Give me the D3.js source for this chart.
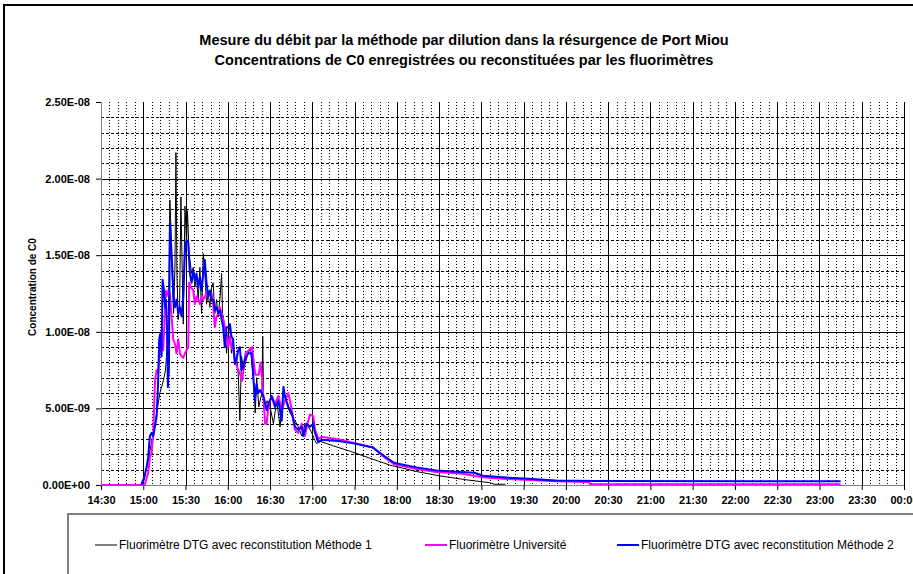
<!DOCTYPE html>
<html>
<head>
<meta charset="utf-8">
<script src="https://cdn.jsdelivr.net/npm/d3@7/dist/d3.min.js"></script>
<style>
body { margin: 0; background: #fff; }
svg text { font-family: Arial, "Liberation Sans", sans-serif; }
</style>
</head>
<body>
<div id="chart-area"></div>
<script>
// values are in units of 1e-9
var unit = 1e-9;

var titleLines = [
	"Mesure du débit par la méthode par dilution dans la résurgence de Port Miou",
	"Concentrations de C0 enregistrées ou reconstituées par les fluorimètres"
];
var yLabel = "Concentration de C0";
var seriesNames = [
	"Fluorimètre DTG avec reconstitution Méthode 1",
	"Fluorimètre Université",
	"Fluorimètre DTG avec reconstitution Méthode 2"
];
var seriesColors = ["#000000", "#ff00ff", "#0000ff"];
var yTicks = [0, 5, 10, 15, 20, 25];

// Méthode 1 (black)
var m1Times = ["14:58:00","15:00:00","15:03:30","15:07:06","15:09:30","15:11:48","15:14:12","15:15:48","15:17:18","15:18:12",
	"15:18:54","15:19:36","15:20:36","15:21:30","15:22:30","15:23:12","15:23:54","15:24:48","15:25:48","15:26:42",
	"15:27:42","15:28:24","15:29:36","15:30:42","15:31:24","15:32:24","15:33:06","15:34:18","15:35:30","15:36:36",
	"15:37:48","15:39:00","15:40:12","15:41:24","15:42:36","15:43:42","15:44:54","15:46:06","15:47:18","15:48:30",
	"15:49:36","15:50:48","15:52:00","15:53:12","15:54:24","15:55:36","15:56:18","15:57:54","15:59:06","16:00:18",
	"16:01:30","16:02:36","16:03:48","16:05:00","16:06:12","16:07:24","16:08:36","16:09:42","16:11:18","16:13:42",
	"16:16:06","16:18:24","16:19:30","16:20:30","16:22:00","16:24:12","16:24:48","16:25:30","16:27:54","16:30:00",
	"16:32:24","16:34:42","16:37:06","16:39:30","16:41:48","16:44:12","16:47:42","16:50:06","16:52:30","16:54:48",
	"16:57:12","16:59:36","17:01:54","17:03:06","17:05:30","17:15:00","17:27:00","17:40:00","17:55:00","18:14:00",
	"18:30:00","18:50:00","19:06:00","19:09:00","19:17:00"];
var m1Values = [0,0.1,1.6,3.4,4.7,6.0,6.8,7.5,9.5,12.9,
	18.6,16.8,13.4,11.2,14.2,21.7,13.8,10.8,11.6,18.8,
	13.8,10.5,18.2,15.8,17.9,15.3,14.7,13.8,14.2,12.9,
	13.6,12.1,14.2,11.2,15.1,13.8,11.8,12.5,11.6,12.9,
	13.2,11.2,12.1,11.0,12.1,13.8,11.2,10.3,8.6,9.9,
	10.3,8.6,9.5,7.9,8.4,7.3,4.2,8.4,7.5,8.4,
	9.0,6.6,4.7,7.0,5.1,6.0,9.7,4.9,5.5,5.1,
	4.0,5.5,3.8,6.2,5.3,4.7,4.2,3.8,3.2,4.0,
	3.8,3.4,2.9,2.7,2.85,2.55,2.2,1.78,1.3,0.88,
	0.6,0.33,0.15,0.05,0.05];

// Université (magenta)
var univTimes = ["14:30:00","15:01:00","15:03:30","15:04:42","15:05:54","15:07:06","15:08:18","15:09:30","15:10:36","15:11:48",
	"15:13:00","15:14:12","15:14:54","15:15:48","15:16:30","15:17:42","15:18:54","15:20:06","15:21:18","15:22:30",
	"15:23:36","15:24:48","15:26:00","15:27:12","15:28:24","15:29:36","15:30:42","15:31:54","15:32:36","15:33:48",
	"15:35:30","15:36:36","15:37:48","15:39:00","15:40:12","15:41:24","15:42:36","15:43:42","15:44:54","15:46:06",
	"15:47:18","15:48:30","15:49:36","15:50:48","15:52:00","15:53:12","15:54:24","15:55:36","15:56:42","15:57:54",
	"15:59:06","16:00:18","16:01:30","16:02:36","16:03:48","16:05:00","16:06:36","16:08:30","16:10:12","16:12:30",
	"16:14:54","16:17:18","16:19:30","16:22:00","16:23:12","16:24:30","16:26:30","16:27:36","16:28:48","16:31:12",
	"16:33:30","16:35:54","16:38:18","16:40:36","16:43:00","16:45:24","16:47:42","16:50:06","16:52:30","16:54:48",
	"16:56:30","16:58:24","17:00:42","17:01:54","17:04:18","17:06:36","17:20:00","17:30:00","17:43:00","17:50:00",
	"17:58:00","18:14:00","18:28:00","18:45:00","19:01:00","19:15:00","19:30:00","19:53:00","20:16:00","20:17:00",
	"23:15:00"];
var univValues = [0,0,0.8,1.8,2.1,3.4,6.8,7.5,7.3,9.0,
	9.5,8.8,10.3,12.7,12.3,12.7,12.5,11.0,9.5,9.2,
	8.6,9.5,8.6,8.4,8.3,8.6,8.8,9.0,13.2,12.9,
	12.7,11.8,12.3,12.1,11.8,12.3,12.1,12.3,12.5,12.3,
	12.5,12.5,11.8,10.3,11.0,11.2,11.6,11.2,10.8,10.3,
	9.9,9.0,9.7,9.0,8.8,8.2,7.7,7.3,6.8,8.6,
	8.8,9.0,7.2,7.2,8.0,6.8,4.0,4.0,5.1,5.8,
	5.3,5.8,4.9,5.5,6.0,4.9,3.6,3.4,4.0,3.2,
	4.0,4.6,4.5,3.6,3.0,3.15,2.95,2.75,2.45,1.9,
	1.35,1.05,0.85,0.75,0.5,0.4,0.35,0.25,0.2,0.07,
	0.05];

// Méthode 2 (blue)
var m2Times = ["14:58:30","15:00:42","15:02:24","15:03:30","15:04:42","15:05:54","15:07:06","15:08:18","15:09:30","15:10:36",
	"15:11:18","15:12:06","15:13:00","15:13:42","15:14:42","15:15:24","15:16:06","15:16:48","15:17:30","15:18:12",
	"15:18:54","15:19:36","15:20:36","15:21:30","15:22:30","15:23:36","15:24:48","15:26:00","15:27:12","15:28:24",
	"15:29:36","15:30:42","15:31:54","15:33:06","15:34:18","15:35:30","15:36:36","15:37:48","15:39:00","15:40:12",
	"15:41:24","15:42:36","15:43:42","15:44:54","15:46:06","15:47:18","15:48:30","15:49:36","15:50:48","15:52:00",
	"15:53:12","15:54:24","15:55:36","15:56:42","15:57:54","15:59:06","16:00:18","16:01:30","16:02:36","16:03:48",
	"16:05:00","16:06:12","16:07:24","16:08:36","16:09:42","16:10:54","16:12:06","16:14:30","16:16:48","16:18:00",
	"16:19:12","16:20:24","16:21:36","16:22:54","16:25:18","16:27:36","16:28:48","16:31:12","16:33:30","16:35:54",
	"16:38:18","16:39:30","16:40:36","16:43:00","16:45:24","16:47:42","16:50:06","16:52:30","16:53:36","16:56:00",
	"16:58:24","17:00:42","17:01:54","17:04:18","17:06:36","17:20:00","17:30:00","17:43:00","17:50:00","17:58:00",
	"18:00:00","18:14:00","18:28:00","18:45:00","18:55:00","19:01:00","19:15:00","19:30:00","19:53:00","20:22:00",
	"23:15:00"];
var m2Values = [0,0.5,1.2,1.8,3.2,3.4,3.2,3.8,4.5,6.8,
	9.5,9.9,8.4,13.4,12.7,11.6,12.1,10.3,6.4,7.7,
	17.1,16.0,14.2,12.3,11.6,12.1,11.2,11.6,11.0,12.3,
	15.3,16.0,15.8,13.8,13.2,14.0,13.4,13.8,12.9,13.6,
	12.7,13.8,14.7,13.2,12.3,12.7,12.1,12.1,11.4,11.6,
	11.2,11.4,10.8,10.3,9.0,10.3,10.3,10.5,9.7,9.5,
	7.9,8.2,8.8,9.0,7.5,7.7,8.2,8.6,8.6,7.3,
	5.5,6.6,6.0,6.2,5.8,4.9,5.3,5.8,5.1,5.5,
	4.2,6.4,5.8,5.1,4.7,3.8,3.6,3.8,3.2,4.0,
	3.8,4.0,3.4,2.8,2.95,2.85,2.7,2.45,1.96,1.45,
	1.4,1.15,0.95,0.85,0.8,0.6,0.5,0.42,0.3,0.26,
	0.24];

var W = 913, H = 574;
var margin = {top: 102, left: 101};
var width = 803, height = 383;

var svg = d3.select("#chart-area").append("svg")
	.attr("width", W)
	.attr("height", H);

svg.append("rect").attr("width", W).attr("height", H).attr("fill", "#fff");

// outer chart frame (cut at right/bottom)
svg.append("path")
	.attr("d", "M4,574 V5 H913")
	.attr("fill", "none")
	.attr("stroke", "#000")
	.attr("stroke-width", 2);

// titles
svg.selectAll(".title").data(titleLines).enter()
	.append("text")
	.attr("class", "title")
	.attr("x", 464)
	.attr("y", (d, i) => 45 + i * 20)
	.attr("text-anchor", "middle")
	.attr("font-size", "14.5px")
	.attr("font-weight", "bold")
	.text(d => d);

var parseTime = d3.timeParse("%H:%M:%S");
var x = d3.scaleTime()
	.domain([new Date(1900, 0, 1, 14, 30), new Date(1900, 0, 2, 0, 0)])
	.range([0, width]);
var y = d3.scaleLinear()
	.domain([0, 25 * unit])
	.range([height, 0]);

var g = svg.append("g")
	.attr("transform", "translate(" + margin.left + ", " + margin.top + ")");

// minor grid
var minorY = d3.range(1, 25).filter(v => v % 5 != 0).map(v => v * unit);
g.selectAll(".minor-h").data(minorY).enter()
	.append("line")
	.attr("x1", 0).attr("x2", width)
	.attr("y1", d => Math.round(y(d)) + 0.5)
	.attr("y2", d => Math.round(y(d)) + 0.5)
	.attr("stroke", "#000")
	.attr("stroke-dasharray", "3,2");

var minorX = x.ticks(d3.timeMinute.every(6)).filter(d => d.getMinutes() % 30 != 0);
g.selectAll(".minor-v").data(minorX).enter()
	.append("line")
	.attr("y1", 0).attr("y2", height)
	.attr("x1", d => Math.round(x(d)) + 0.5)
	.attr("x2", d => Math.round(x(d)) + 0.5)
	.attr("stroke", "#000")
	.attr("stroke-dasharray", "1,2");

// major grid
var majorX = x.ticks(d3.timeMinute.every(30));
g.selectAll(".major-v").data(majorX.slice(1)).enter()
	.append("line")
	.attr("y1", 0).attr("y2", height)
	.attr("x1", d => Math.round(x(d)) + 0.5)
	.attr("x2", d => Math.round(x(d)) + 0.5)
	.attr("stroke", "#000");

g.selectAll(".major-h").data(yTicks.slice(1, 5)).enter()
	.append("line")
	.attr("x1", 0).attr("x2", width)
	.attr("y1", d => Math.round(y(d * unit)) + 0.5)
	.attr("y2", d => Math.round(y(d * unit)) + 0.5)
	.attr("stroke", "#000");

// axes
var sciFmt = function(v) {
	var p = d3.format(".2e")(v).split("e");
	var e = +p[1];
	return p[0] + "E" + (e < 0 ? "-" : "+") + d3.format("02")(Math.abs(e));
};

var leftAxis = d3.axisLeft(y)
	.tickValues(yTicks.map(v => v * unit))
	.tickFormat(sciFmt)
	.tickSizeOuter(0)
	.tickSize(5)
	.tickPadding(6);
var yAxisG = g.append("g").attr("class", "left axis").call(leftAxis);

var bottomAxis = d3.axisBottom(x)
	.ticks(d3.timeMinute.every(30))
	.tickFormat(d3.timeFormat("%H:%M"))
	.tickSizeOuter(0)
	.tickSize(5)
	.tickPadding(6);
var xAxisG = g.append("g").attr("class", "bottom axis")
	.attr("transform", "translate(0, " + height + ")")
	.call(bottomAxis);

[yAxisG, xAxisG].forEach(function(a) {
	a.select(".domain").attr("stroke", "#808080");
	a.selectAll(".tick line").attr("stroke", "#000");
	a.selectAll("text")
		.attr("fill", "#000")
		.attr("font-weight", "bold")
		.attr("font-size", "11px")
		.attr("font-family", "Arial, 'Liberation Sans', sans-serif");
});

// y label
svg.append("text")
	.attr("transform", "translate(36, 287) rotate(-90)")
	.attr("text-anchor", "middle")
	.attr("font-size", "10px")
	.attr("font-weight", "bold")
	.text(yLabel);

// series
var series = [
	{times: m1Times, values: m1Values, width: 1},
	{times: univTimes, values: univValues, width: 2},
	{times: m2Times, values: m2Values, width: 2}
];
var line = d3.line()
	.x(d => x(d.t))
	.y(d => y(d.v));

series.forEach(function(s, i) {
	var pts = s.times.map((t, k) => ({t: parseTime(t), v: s.values[k] * unit}));
	g.append("path")
		.datum(pts)
		.attr("fill", "none")
		.attr("stroke", seriesColors[i])
		.attr("stroke-width", s.width)
		.attr("stroke-linejoin", "round")
		.attr("d", line);
});

// legend box
svg.append("path")
	.attr("d", "M68,574 V514 H913")
	.attr("fill", "none")
	.attr("stroke", "#808080")
	.attr("stroke-width", 2);

var legendX = [95, 425, 617];
var legend = svg.selectAll(".legend").data(seriesNames).enter()
	.append("g")
	.attr("transform", (d, i) => "translate(" + legendX[i] + ", 545)");
legend.append("line")
	.attr("x1", 0).attr("x2", 22)
	.attr("stroke", (d, i) => seriesColors[i])
	.attr("stroke-width", (d, i) => series[i].width);
legend.append("text")
	.attr("x", 24)
	.attr("dy", "0.35em")
	.attr("font-size", "12px")
	.text(d => d);
</script>
</body>
</html>
